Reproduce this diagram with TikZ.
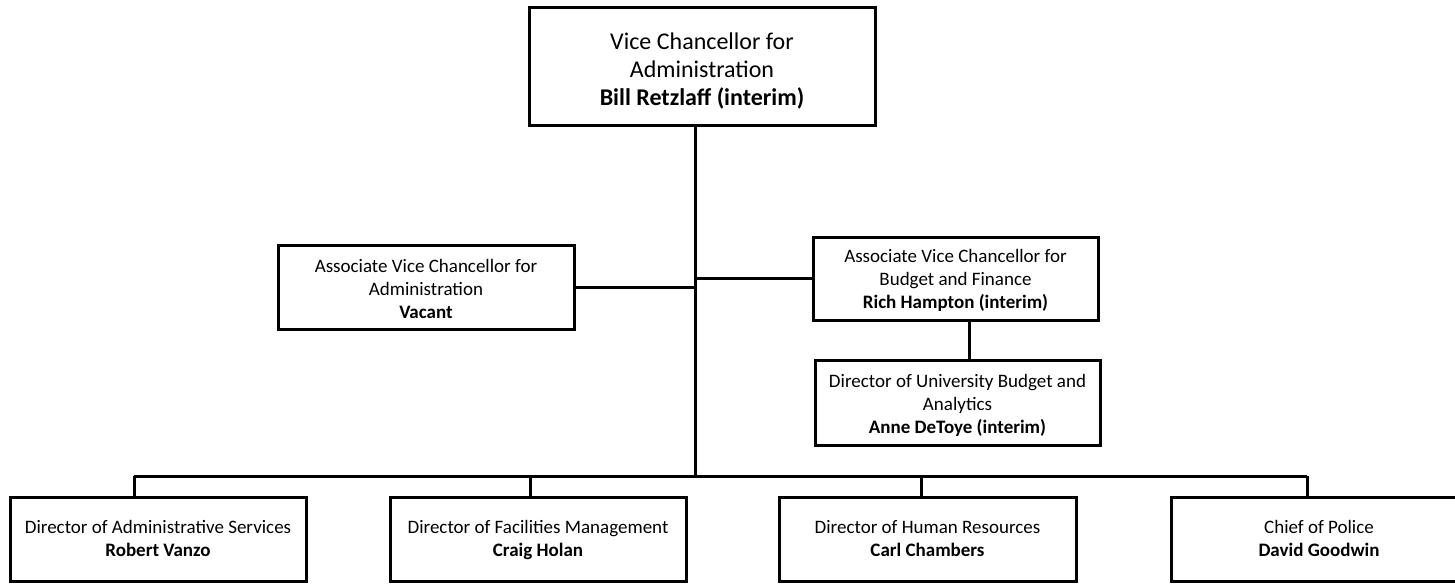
\documentclass[tikz,border=0pt]{standalone}
\usepackage{fontspec}
\setmainfont{Carlito}
\begin{document}
\begin{tikzpicture}[x=1pt,y=-1pt,
  box/.style={draw, line width=3pt, inner sep=0pt, align=center, anchor=center},
  % puts the last baseline of the text #1/2 below the middle of the box
  lastline/.style={text height=#1, text depth=0pt},
  small/.style={font=\fontsize{19}{23}\selectfont},
  big/.style={font=\fontsize{24}{28}\selectfont},
  link/.style={line width=3pt}]
\useasboundingbox (0,0) rectangle (1455,584);

% top of the chart
\node[box, big, lastline=79pt, minimum width=346pt, minimum height=118pt] (vc) at (702,66)
  {Vice Chancellor for\\Administration\\\textbf{Bill Retzlaff (interim)}};

% associate vice chancellors
\node[box, small, lastline=62pt, minimum width=296pt, minimum height=84pt] (avcadm) at (426,287)
  {Associate Vice Chancellor for\\Administration\\\textbf{Vacant}};
\node[box, small, lastline=60pt, minimum width=285pt, minimum height=83pt] (avcbf) at (955.5,278.5)
  {Associate Vice Chancellor for\\Budget and Finance\\\textbf{Rich Hampton (interim)}};
\node[box, small, lastline=62pt, minimum width=285pt, minimum height=85pt] (budget) at (957.5,402.5)
  {Director of University Budget and\\Analytics\\\textbf{Anne DeToye (interim)}};

% directors on the bottom row
\tikzset{row/.style={box, small, lastline=34pt, minimum width=296pt, minimum height=84pt}}
\node[row] (adm) at (158,539)
  {Director of Administrative Services\\\textbf{Robert Vanzo}};
\node[row] (fac) at (538,539)
  {Director of Facilities Management\\\textbf{Craig Holan}};
\node[row, minimum width=297pt] (hr) at (927.5,539)
  {Director of Human Resources\\\textbf{Carl Chambers}};
\node[row] (police) at (1319,539)
  {Chief of Police\\\textbf{David Goodwin}};

% junction points of the connectors
\coordinate (hub) at (695,476);
\coordinate (busL) at (134,476);
\coordinate (busR) at (1307,476);
\coordinate (dropfac) at (530,476);
\coordinate (drophr) at (921,476);
\coordinate (bfline) at (969,0);

% connectors
\draw[link] (vc.south -| hub) -- (hub);
\draw[link] (avcadm.east) -- (avcadm.east -| hub);
\draw[link] (avcbf.west) -- (avcbf.west -| hub);
\draw[link] (avcbf.south -| bfline) -- (budget.north -| bfline);
\draw[link] (busL) -- (busR);
\draw[link] (busL) -- (adm.north -| busL);
\draw[link] (dropfac) -- (fac.north -| dropfac);
\draw[link] (drophr) -- (hr.north -| drophr);
\draw[link] (busR) -- (police.north -| busR);
\end{tikzpicture}
\end{document}
